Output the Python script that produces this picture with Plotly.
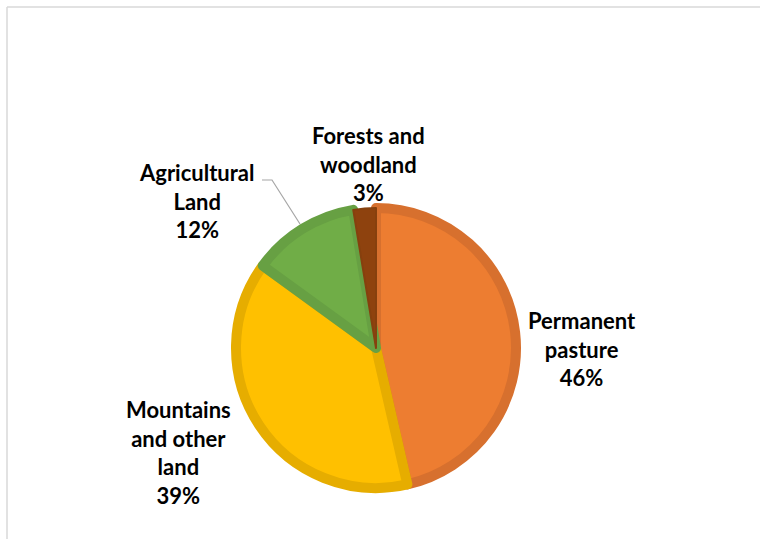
import plotly.graph_objects as go

# Data
categories = ["Permanent pasture", "Mountains and other land", "Agricultural Land", "Forests and woodland"]
display_labels = ["Permanent<br>pasture", "Mountains<br>and other<br>land", "Agricultural<br>Land", "Forests and<br>woodland"]
values = [46.4, 38.6, 12.4, 2.6]

fill_colors = ["#ED7D31", "#FFC000", "#70AD47", "#8E420E"]
border_colors = ["#D7702E", "#E6AD00", "#67A043", "#86400E"]
border_widths = [10, 10, 10, 2]

W, H = 760, 539
def px(x):
    return x / W
def py(y):
    return 1 - y / H

cx, cy, r = 376, 348, 140

total = sum(values)
fig = go.Figure()
fig.add_trace(go.Pie(
    labels=categories,
    values=values,
    sort=False,
    direction="clockwise",
    rotation=0,
    textinfo="none",
    hoverinfo="label+percent",
    marker=dict(colors=fill_colors, line=dict(color=border_colors, width=border_widths)),
    domain=dict(x=[px(cx - r), px(cx + r)], y=[py(cy + r), py(cy - r)]),
    showlegend=False,
))

label_pos = [(582, 349), (178, 452), (197, 201), (368, 164)]
for lab, v, (lx, ly) in zip(display_labels, values, label_pos):
    fig.add_annotation(
        x=px(lx), y=py(ly), xref="paper", yref="paper",
        text=f"<b>{lab}<br>{round(100 * v / total)}%</b>",
        showarrow=False, xanchor="center", yanchor="middle",
        font=dict(family="Lato", size=22, color="#000000"),
        align="center",
    )

shapes = [
    dict(type="line", xref="paper", yref="paper", x0=px(7), y0=py(7), x1=px(760), y1=py(7),
         line=dict(color="#D9D9D9", width=1.5)),
    dict(type="line", xref="paper", yref="paper", x0=px(7), y0=py(7), x1=px(7), y1=py(539),
         line=dict(color="#D9D9D9", width=1.5)),
    dict(type="path", xref="paper", yref="paper",
         path=f"M {px(262)} {py(180)} L {px(272)} {py(180)} L {px(300)} {py(224)}",
         line=dict(color="#A6A6A6", width=1.2)),
]

fig.update_layout(
    width=W, height=H,
    margin=dict(l=0, r=0, t=0, b=0),
    paper_bgcolor="white", plot_bgcolor="white",
    shapes=shapes,
)

fig.write_html("out.html", config={"displayModeBar": False},
               post_script="document.body.style.margin='0';document.body.style.overflow='hidden';")
